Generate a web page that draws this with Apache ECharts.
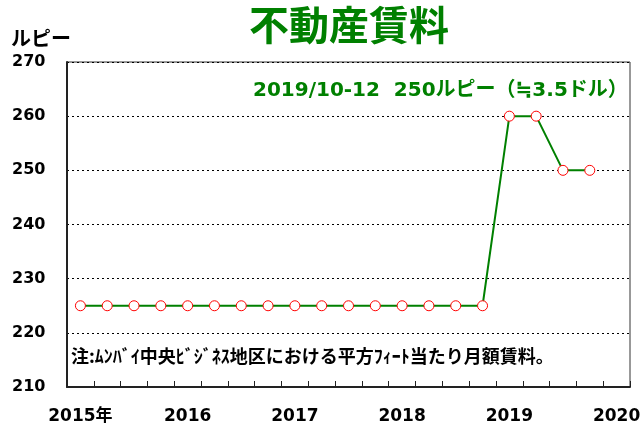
<!DOCTYPE html>
<html>
<head>
<meta charset="utf-8">
<script src="https://cdn.jsdelivr.net/npm/echarts@6/dist/echarts.min.js"></script>
<style>
  html, body { margin: 0; padding: 0; background: #fff; }
  #main { width: 644px; height: 427px; }
</style>
</head>
<body>
<div id="main"></div>
<script>
// 四半期ごと (2015Q1 - 2020Q1)
var quarters = [
  '2015Q1', '2015Q2', '2015Q3', '2015Q4',
  '2016Q1', '2016Q2', '2016Q3', '2016Q4',
  '2017Q1', '2017Q2', '2017Q3', '2017Q4',
  '2018Q1', '2018Q2', '2018Q3', '2018Q4',
  '2019Q1', '2019Q2', '2019Q3', '2019Q4',
  '2020Q1'
];
var yearLabels = { '2015Q1': '2015年', '2016Q1': '2016', '2017Q1': '2017', '2018Q1': '2018', '2019Q1': '2019', '2020Q1': '2020' };
var rent = [
  225, 225, 225, 225,
  225, 225, 225, 225,
  225, 225, 225, 225,
  225, 225, 225, 225,
  260, 260, 250, 250,
  null
];

var font = '"DejaVu Sans", "Noto Sans CJK JP", sans-serif';
var cjk = '"Noto Sans CJK JP", sans-serif';
var green = '#008000';

var myChart = echarts.init(document.getElementById('main'));
var option = {
  animation: false,
  title: {
    text: '不動産賃料',
    left: 344,
    textAlign: 'center',
    top: 0,
    textStyle: { color: green, fontSize: 40, fontWeight: 'bold', fontFamily: cjk }
  },
  grid: {
    left: 67, right: 14, top: 62, bottom: 40,
    show: true,
    borderColor: '#333',
    borderWidth: 1
  },
  xAxis: {
    type: 'category',
    data: quarters,
    boundaryGap: true,
    axisLine: { lineStyle: { color: '#222', width: 2 } },
    axisTick: { show: true, inside: true, length: 6, interval: 0, lineStyle: { color: '#222' } },
    axisLabel: {
      interval: 0,
      margin: 21,
      color: '#000',
      fontSize: 17,
      fontWeight: 'bold',
      fontFamily: font,
      formatter: function (v) { return yearLabels[v] || ''; }
    },
    splitLine: { show: false }
  },
  yAxis: {
    type: 'value',
    min: 210,
    max: 270,
    interval: 10,
    name: 'ルピー',
    nameLocation: 'end',
    nameGap: 14,
    nameTextStyle: { color: '#000', fontSize: 20, fontWeight: 'bold', fontFamily: cjk, align: 'left', padding: [0, 0, 0, -56] },
    axisLine: { show: true, lineStyle: { color: '#222', width: 2 } },
    axisTick: { show: false },
    axisLabel: {
      color: '#000',
      fontSize: 16,
      fontWeight: 'bold',
      fontFamily: font,
      align: 'left',
      margin: 55
    },
    splitLine: { show: true, lineStyle: { color: '#000', type: [2, 3], width: 1 } }
  },
  graphic: [
    {
      type: 'text',
      left: 253,
      top: 81,
      style: {
        text: '2019/10-12  250ルピー（≒3.5ドル）',
        fill: green,
        font: 'bold 20px ' + font
      }
    },
    {
      type: 'text',
      left: 71,
      top: 347,
      style: {
        text: '注:ﾑﾝﾊﾞｲ中央ﾋﾞｼﾞﾈｽ地区における平方ﾌｨｰﾄ当たり月額賃料。',
        fill: '#000',
        font: 'bold 18px ' + cjk
      }
    }
  ],
  series: [
    {
      type: 'line',
      data: rent,
      symbol: 'circle',
      symbolSize: 10,
      showAllSymbol: true,
      lineStyle: { color: green, width: 2 },
      itemStyle: { color: '#fff', borderColor: '#f00', borderWidth: 1 }
    }
  ]
};
myChart.setOption(option);
</script>
</body>
</html>
